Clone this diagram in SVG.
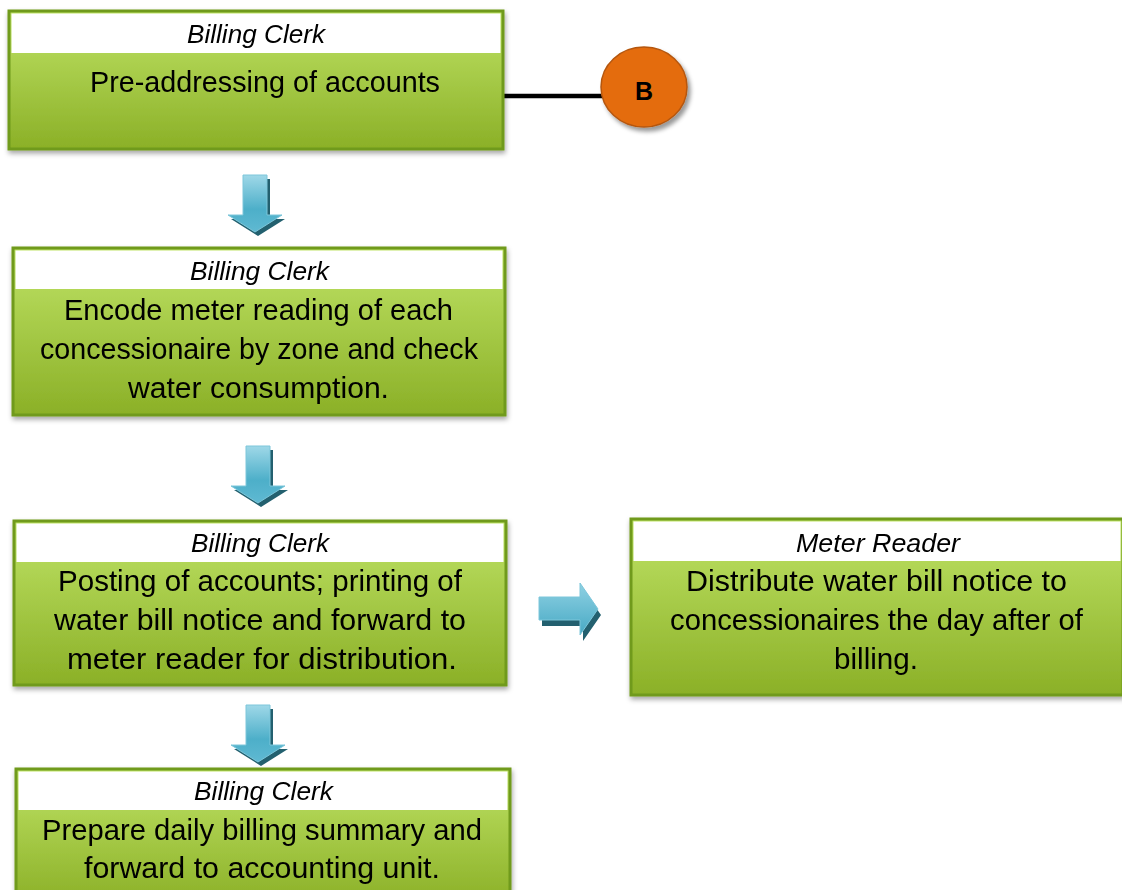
<svg xmlns="http://www.w3.org/2000/svg" width="1122" height="890" viewBox="0 0 1122 890">
<defs>
  <linearGradient id="gBody" x1="0" y1="0" x2="0" y2="1">
    <stop offset="0" stop-color="#bfe366"/>
    <stop offset="1" stop-color="#8bb027"/>
  </linearGradient>
  <linearGradient id="gArrow" x1="0" y1="0" x2="0" y2="1">
    <stop offset="0" stop-color="#9fd8e8"/>
    <stop offset="0.6" stop-color="#4dafc9"/>
    <stop offset="1" stop-color="#5fb9d2"/>
  </linearGradient>
  <linearGradient id="gArrowR" x1="0" y1="0" x2="0" y2="1">
    <stop offset="0" stop-color="#8fd1e3"/>
    <stop offset="1" stop-color="#47a9c4"/>
  </linearGradient>
  <filter id="shadow" x="-5%" y="-10%" width="115%" height="130%">
    <feDropShadow dx="1" dy="3" stdDeviation="2.5" flood-color="#000" flood-opacity="0.35"/>
  </filter>
  <filter id="cshadow" x="-20%" y="-20%" width="150%" height="150%">
    <feDropShadow dx="3" dy="4" stdDeviation="2" flood-color="#000" flood-opacity="0.4"/>
  </filter>
  <path id="downArrow" d="M-12,0 H12 V40 H27 L0,57 L-27,40 H-12 Z"/>
  <path id="rightArrow" d="M0,0 H41 V-14 L59,12 L41,38 V23 H0 Z"/>
</defs>
<style>
  .box { fill: url(#gBody); stroke: #6f9a1a; stroke-width: 3; }
  .hdr { fill: #ffffff; }
  .role { font-family: "Liberation Sans", Arial, sans-serif; font-style: italic; font-size: 26px; fill: #000; text-anchor: middle; }
  .txt { font-family: "Liberation Sans", Arial, sans-serif; font-size: 29px; fill: #000; text-anchor: middle; }
  .dark { fill: #23606f; }
  .front { fill: url(#gArrow); stroke: #7cc6da; stroke-width: 1; }
  .frontR { fill: url(#gArrowR); stroke: #7cc6da; stroke-width: 1; }
  .conn { stroke: #000; stroke-width: 4.5; fill: none; }
</style>

<g id="connectors">
  <line class="conn" x1="503" y1="96" x2="604" y2="96"/>
  <g id="arrow1">
    <use href="#downArrow" class="dark" transform="translate(258,179)"/>
    <use href="#downArrow" class="front" transform="translate(255,175)"/>
  </g>
  <g id="arrow2">
    <use href="#downArrow" class="dark" transform="translate(261,450)"/>
    <use href="#downArrow" class="front" transform="translate(258,446)"/>
  </g>
  <g id="arrow3">
    <use href="#downArrow" class="dark" transform="translate(261,709)"/>
    <use href="#downArrow" class="front" transform="translate(258,705)"/>
  </g>
  <g id="arrowRight">
    <use href="#rightArrow" class="dark" transform="translate(542,603)"/>
    <use href="#rightArrow" class="frontR" transform="translate(539,597)"/>
  </g>
</g>

<g id="node1" filter="url(#shadow)">
  <rect class="box" x="9" y="11" width="494" height="138"/>
  <rect class="hdr" x="11.5" y="13.5" width="489" height="39.5"/>
  <text class="role" x="256" y="43" textLength="138" lengthAdjust="spacingAndGlyphs">Billing Clerk</text>
  <text class="txt" x="265" y="92" textLength="350" lengthAdjust="spacingAndGlyphs">Pre-addressing of accounts</text>
</g>

<g id="nodeB">
  <ellipse cx="644" cy="87" rx="43" ry="40" fill="#e46c0a" stroke="#b5560c" stroke-width="1.5" filter="url(#cshadow)"/>
  <text x="644" y="100" font-family="Liberation Sans, Arial, sans-serif" font-weight="bold" font-size="25" text-anchor="middle" fill="#000">B</text>
</g>

<g id="node2" filter="url(#shadow)">
  <rect class="box" x="13" y="248" width="492" height="167"/>
  <rect class="hdr" x="15.5" y="250.5" width="487" height="38.5"/>
  <text class="role" x="259.5" y="280" textLength="139" lengthAdjust="spacingAndGlyphs">Billing Clerk</text>
  <text class="txt" x="258.5" y="320" textLength="389" lengthAdjust="spacingAndGlyphs">Encode meter reading of each</text>
  <text class="txt" x="259" y="359" textLength="438" lengthAdjust="spacingAndGlyphs">concessionaire by zone and check</text>
  <text class="txt" x="258.5" y="398" textLength="261" lengthAdjust="spacingAndGlyphs">water consumption.</text>
</g>

<g id="node3" filter="url(#shadow)">
  <rect class="box" x="14" y="521" width="492" height="164"/>
  <rect class="hdr" x="16.5" y="523.5" width="487" height="38.5"/>
  <text class="role" x="260" y="552" textLength="138" lengthAdjust="spacingAndGlyphs">Billing Clerk</text>
  <text class="txt" x="260" y="591" textLength="404" lengthAdjust="spacingAndGlyphs">Posting of accounts; printing of</text>
  <text class="txt" x="260" y="630" textLength="412" lengthAdjust="spacingAndGlyphs">water bill notice and forward to</text>
  <text class="txt" x="262" y="669" textLength="390" lengthAdjust="spacingAndGlyphs">meter reader for distribution.</text>
</g>

<g id="node4" filter="url(#shadow)">
  <rect class="box" x="631" y="519" width="492" height="176"/>
  <rect class="hdr" x="633.5" y="521.5" width="487" height="39.5"/>
  <text class="role" x="878" y="552" textLength="164" lengthAdjust="spacingAndGlyphs">Meter Reader</text>
  <text class="txt" x="876.5" y="591" textLength="381" lengthAdjust="spacingAndGlyphs">Distribute water bill notice to</text>
  <text class="txt" x="876.5" y="630" textLength="413" lengthAdjust="spacingAndGlyphs">concessionaires the day after of</text>
  <text class="txt" x="876" y="669" textLength="84" lengthAdjust="spacingAndGlyphs">billing.</text>
</g>

<g id="node5" filter="url(#shadow)">
  <rect class="box" x="16" y="769" width="494" height="135"/>
  <rect class="hdr" x="18.5" y="771.5" width="489" height="38.5"/>
  <text class="role" x="263.5" y="800" textLength="139" lengthAdjust="spacingAndGlyphs">Billing Clerk</text>
  <text class="txt" x="262" y="840" textLength="440" lengthAdjust="spacingAndGlyphs">Prepare daily billing summary and</text>
  <text class="txt" x="262" y="878" textLength="356" lengthAdjust="spacingAndGlyphs">forward to accounting unit.</text>
</g>
</svg>
